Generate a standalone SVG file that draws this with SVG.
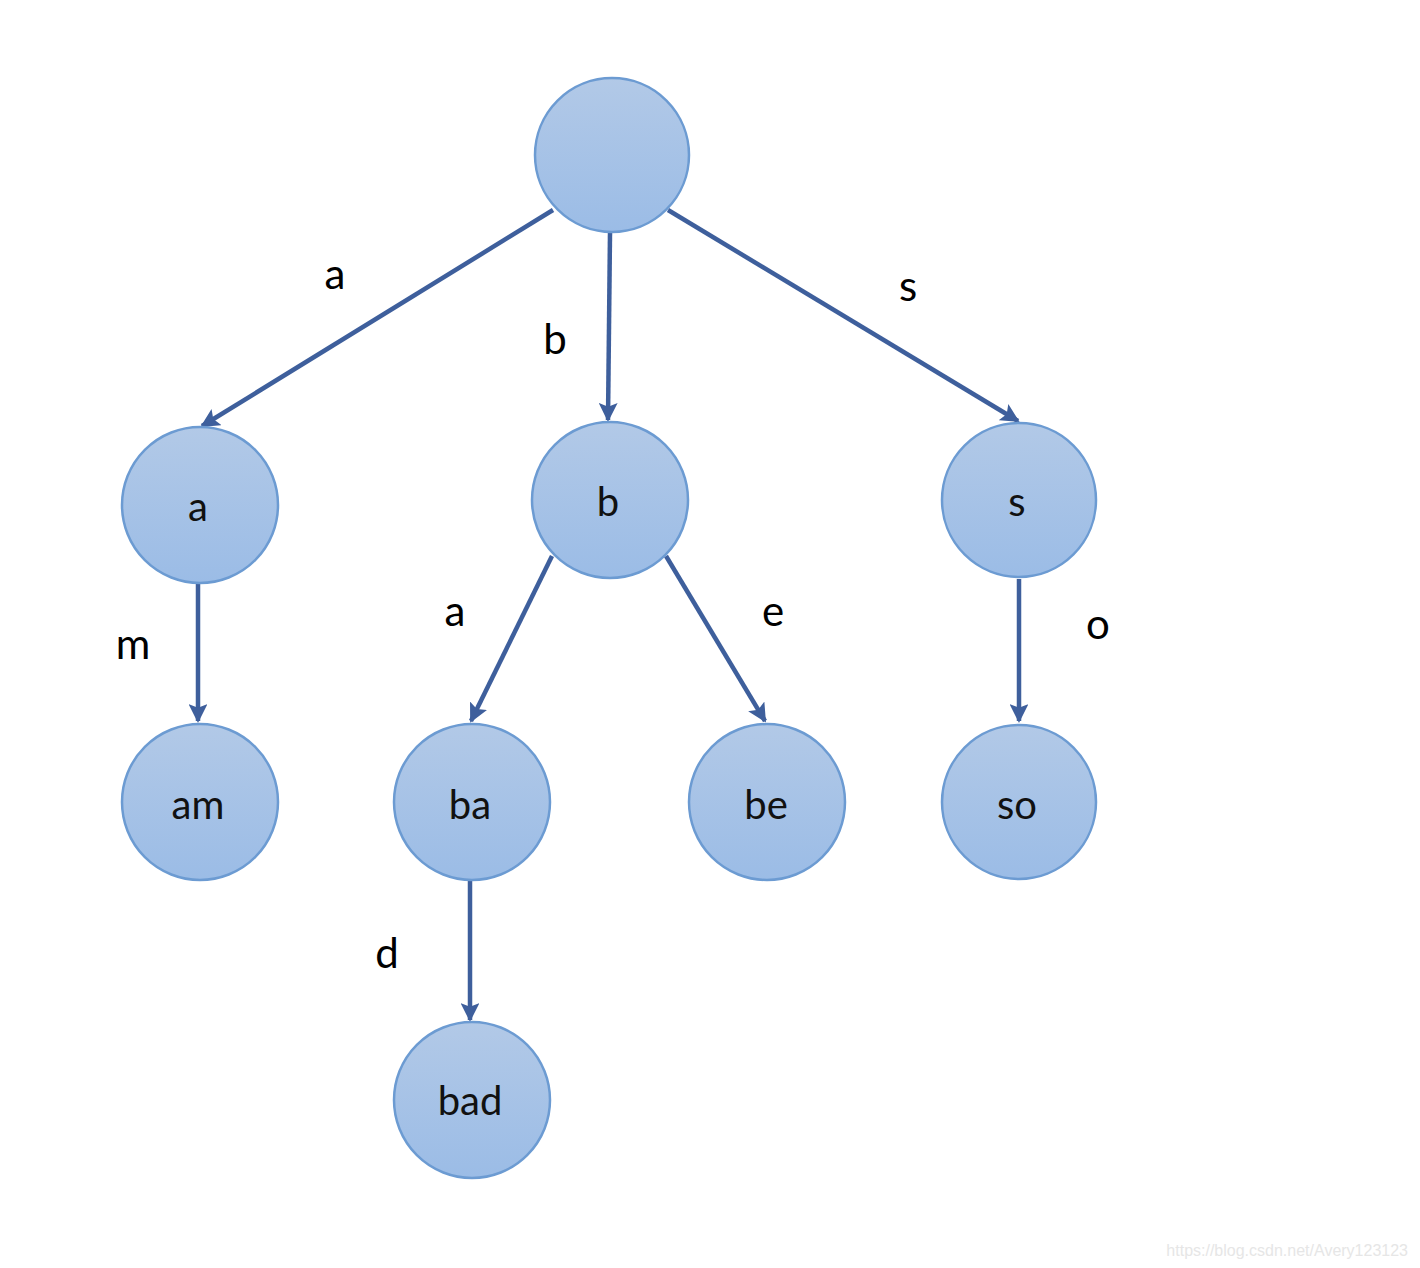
<svg xmlns="http://www.w3.org/2000/svg" width="1420" height="1268" viewBox="0 0 1420 1268">
<style>
.node circle{fill:url(#g);stroke:#6c9bd2;stroke-width:2.5}
.node text{font-family:Lato,"Open Sans","Liberation Sans",sans-serif;font-size:40px;fill:#111;text-anchor:middle}
.edge{stroke:#3e5f9c;stroke-width:4.5;fill:none;marker-end:url(#arr)}
.lbl{font-family:Lato,"Open Sans","Liberation Sans",sans-serif;font-size:42px;fill:#000;text-anchor:middle}
.wm{font-family:"Liberation Sans",Arial,sans-serif;font-size:16px;fill:#e6e6e6;text-anchor:end}
</style>
<defs>
<linearGradient id="g" x1="0" y1="0" x2="0" y2="1">
<stop offset="0" stop-color="#b2c9e7"/>
<stop offset="1" stop-color="#9bbce6"/>
</linearGradient>
<marker id="arr" viewBox="0 0 10 10" refX="9" refY="5" markerWidth="4.2" markerHeight="4.2" orient="auto" markerUnits="strokeWidth">
<path d="M0,0 L10,5 L0,10 L2,5 Z" fill="#3e5f9c"/>
</marker>
</defs>
<rect width="1420" height="1268" fill="#fff"/>
<g id="connectors">
<line class="edge" x1="553" y1="210" x2="202" y2="426"/>
<line class="edge" x1="610" y1="233" x2="608" y2="420"/>
<line class="edge" x1="668" y1="210" x2="1018" y2="421"/>
<line class="edge" x1="198" y1="582" x2="198" y2="721"/>
<line class="edge" x1="552" y1="556" x2="471" y2="721"/>
<line class="edge" x1="666" y1="556" x2="765" y2="721"/>
<line class="edge" x1="1019" y1="579" x2="1019" y2="721"/>
<line class="edge" x1="470" y1="881" x2="470" y2="1020"/>
</g>
<g id="edge-labels">
<text class="lbl" x="335" y="289">a</text>
<text class="lbl" x="555" y="354">b</text>
<text class="lbl" x="908" y="301">s</text>
<text class="lbl" x="133" y="659">m</text>
<text class="lbl" x="455" y="626">a</text>
<text class="lbl" x="773" y="626">e</text>
<text class="lbl" x="1098" y="639">o</text>
<text class="lbl" x="387" y="968">d</text>
</g>
<g id="root" class="node"><circle cx="612" cy="155" r="77"/></g>
<g id="n-a" class="node"><circle cx="200" cy="505" r="78"/><text x="198" y="521">a</text></g>
<g id="n-b" class="node"><circle cx="610" cy="500" r="78"/><text x="608" y="516">b</text></g>
<g id="n-s" class="node"><circle cx="1019" cy="500" r="77"/><text x="1017" y="516">s</text></g>
<g id="n-am" class="node"><circle cx="200" cy="802" r="78"/><text x="198" y="819">am</text></g>
<g id="n-ba" class="node"><circle cx="472" cy="802" r="78"/><text x="470" y="819">ba</text></g>
<g id="n-be" class="node"><circle cx="767" cy="802" r="78"/><text x="766" y="819">be</text></g>
<g id="n-so" class="node"><circle cx="1019" cy="802" r="77"/><text x="1017" y="819">so</text></g>
<g id="n-bad" class="node"><circle cx="472" cy="1100" r="78"/><text x="470" y="1115">bad</text></g>
<text class="wm" x="1408" y="1256">https://blog.csdn.net/Avery123123</text>
</svg>
